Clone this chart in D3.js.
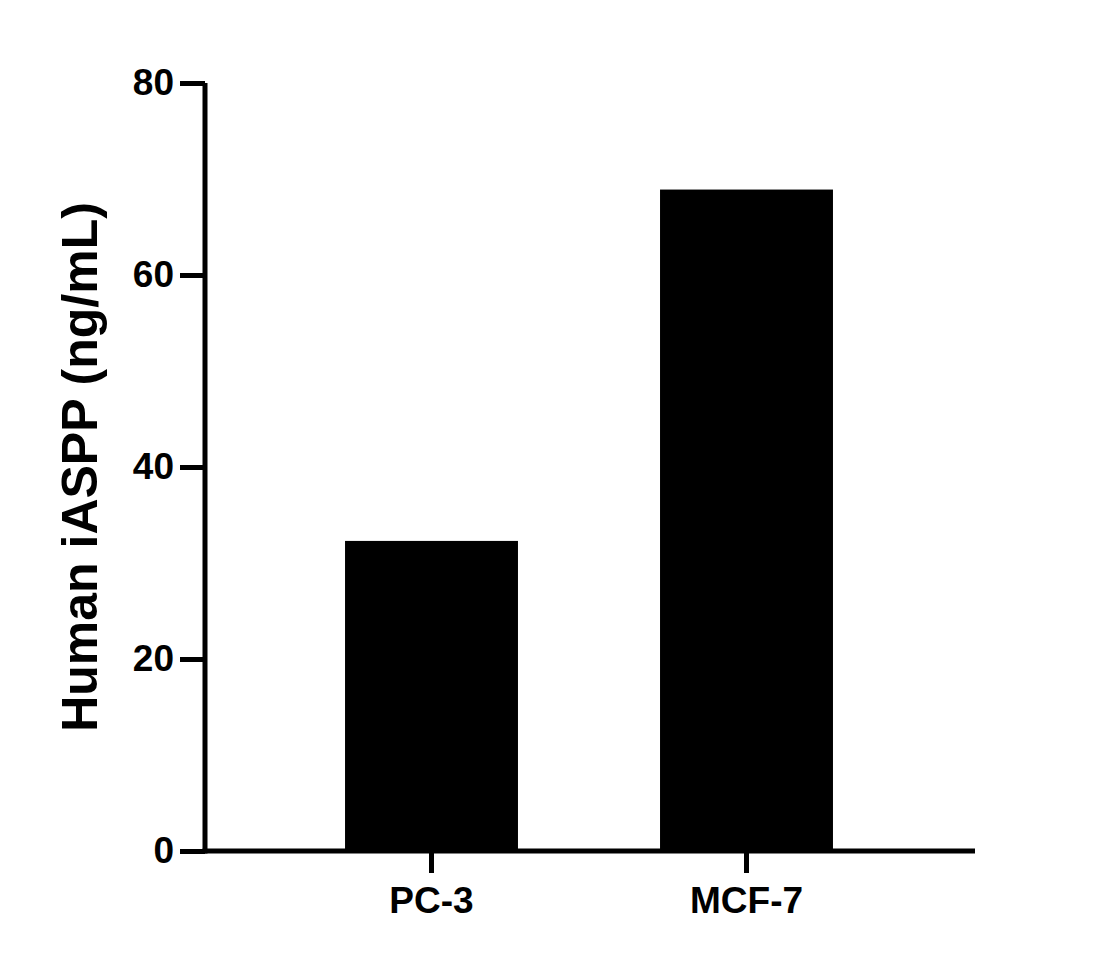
<!DOCTYPE html>
<html>
<head>
<meta charset="utf-8">
<script src="https://cdn.jsdelivr.net/npm/d3@7"></script>
<style>
  body { margin: 0; background: #fff; }
  text { font-family: "Liberation Sans", Arial, sans-serif; font-weight: bold; }
</style>
</head>
<body>
<svg id="chart" width="1111" height="967"></svg>
<script>
const categories = ["PC-3", "MCF-7"]
const values = [32.3, 68.9]
const yTicks = [0, 20, 40, 60, 80]

const svg = d3.select("#chart")

const x = d3.scaleBand()
  .domain(categories)
  .range([274, 904])
  .paddingInner(0.451)
  .paddingOuter(0.2255)

const y = d3.scaleLinear().domain([0, 80]).range([851, 83])

// bars
svg.selectAll("rect.bar")
  .data(categories)
  .join("rect")
  .attr("class", "bar")
  .attr("x", d => x(d))
  .attr("width", x.bandwidth())
  .attr("y", (d, i) => y(values[i]))
  .attr("height", (d, i) => y(0) - y(values[i]))
  .attr("fill", "#000")

// y axis
const yAxis = svg.append("g")
  .attr("transform", "translate(205,0)")
  .call(d3.axisLeft(y).tickValues(yTicks).tickSize(25).tickPadding(6).tickSizeOuter(0))
yAxis.select(".domain").attr("stroke-width", 5).attr("d", `M0,${y(80)}V${y(0) + 2.5}`)
yAxis.selectAll(".tick line").attr("stroke-width", 5)
yAxis.selectAll(".tick text").attr("font-size", 37).attr("fill", "#000")

// x axis
const xAxis = svg.append("g")
  .attr("transform", `translate(0,${y(0)})`)
  .call(d3.axisBottom(x).tickSize(22).tickPadding(14).tickSizeOuter(0))
xAxis.select(".domain").attr("stroke-width", 5).attr("d", "M202.5,0H975")
xAxis.selectAll(".tick line").attr("stroke-width", 5)
xAxis.selectAll(".tick text").attr("font-size", 37).attr("fill", "#000")

// y title
svg.append("text")
  .attr("transform", "translate(97,467) rotate(-90)")
  .attr("text-anchor", "middle")
  .attr("font-size", 50)
  .text("Human iASPP (ng/mL)")
</script>
</body>
</html>
